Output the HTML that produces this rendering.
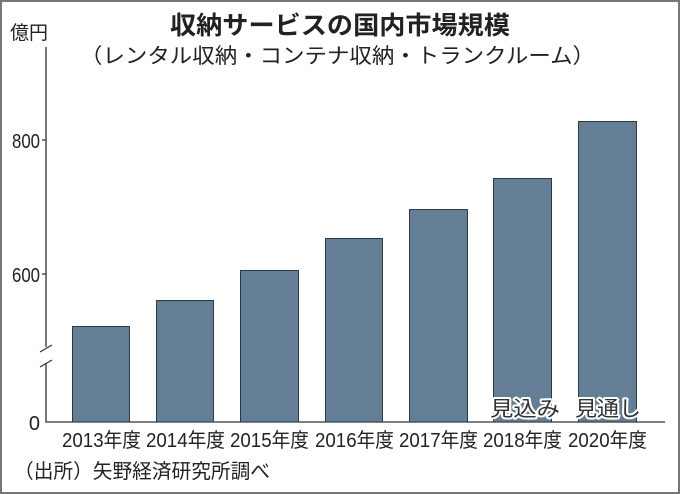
<!DOCTYPE html>
<html><head><meta charset="utf-8"><style>
html,body{margin:0;padding:0;background:#fff}
svg{display:block}
text{font-family:"Liberation Sans","Noto Sans CJK JP",sans-serif;fill:#222}
</style></head><body>
<svg width="680" height="494" viewBox="0 0 680 494">
<rect x="1" y="1" width="678" height="492" fill="#fff" stroke="#777" stroke-width="2"/>
<text x="170" y="34" font-size="25" font-weight="bold" textLength="340" lengthAdjust="spacingAndGlyphs">収納サービスの国内市場規模</text>
<text x="80" y="63" font-size="21" textLength="515" lengthAdjust="spacingAndGlyphs">（レンタル収納・コンテナ収納・トランクルーム）</text>
<text x="10" y="39" font-size="19" textLength="38" lengthAdjust="spacingAndGlyphs">億円</text>
<g stroke="#333" stroke-width="1.3" fill="none">
<path d="M46 47 V347 M46 363 V422 H665"/>
<path d="M40 352 L52 345 M40 367 L52 360"/>
<path d="M42 140 H46 M42 274 H46"/>
</g>
<g font-size="20" text-anchor="end">
<text x="40" y="148" textLength="28" lengthAdjust="spacingAndGlyphs">800</text>
<text x="40" y="282" textLength="28" lengthAdjust="spacingAndGlyphs">600</text>
<text x="40" y="430">0</text>
</g>
<g fill="#647f95" stroke="#2e3a44" stroke-width="1">
<rect x="72.5" y="326.5" width="57" height="95.5"/>
<rect x="156.5" y="300.5" width="57" height="121.5"/>
<rect x="240.5" y="270.5" width="58" height="151.5"/>
<rect x="325.5" y="238.5" width="57" height="183.5"/>
<rect x="409.5" y="209.5" width="58" height="212.5"/>
<rect x="493.5" y="178.5" width="58" height="243.5"/>
<rect x="578.5" y="121.5" width="58" height="300.5"/>
</g>
<g font-size="21" stroke="#fff" stroke-width="4" paint-order="stroke" stroke-linejoin="round">
<text x="490" y="416" style="fill:#333" textLength="70" lengthAdjust="spacingAndGlyphs">見込み</text>
<text x="575" y="416" style="fill:#333" textLength="66" lengthAdjust="spacingAndGlyphs">見通し</text>
</g>
<g font-size="20">
<text x="62" y="447" textLength="79" lengthAdjust="spacingAndGlyphs">2013年度</text>
<text x="146" y="447" textLength="79" lengthAdjust="spacingAndGlyphs">2014年度</text>
<text x="230" y="447" textLength="79" lengthAdjust="spacingAndGlyphs">2015年度</text>
<text x="315" y="447" textLength="79" lengthAdjust="spacingAndGlyphs">2016年度</text>
<text x="399" y="447" textLength="79" lengthAdjust="spacingAndGlyphs">2017年度</text>
<text x="483" y="447" textLength="79" lengthAdjust="spacingAndGlyphs">2018年度</text>
<text x="568" y="447" textLength="79" lengthAdjust="spacingAndGlyphs">2020年度</text>
</g>
<text x="14" y="478" font-size="20" textLength="256" lengthAdjust="spacingAndGlyphs">（出所）矢野経済研究所調べ</text>
</svg>
</body></html>
